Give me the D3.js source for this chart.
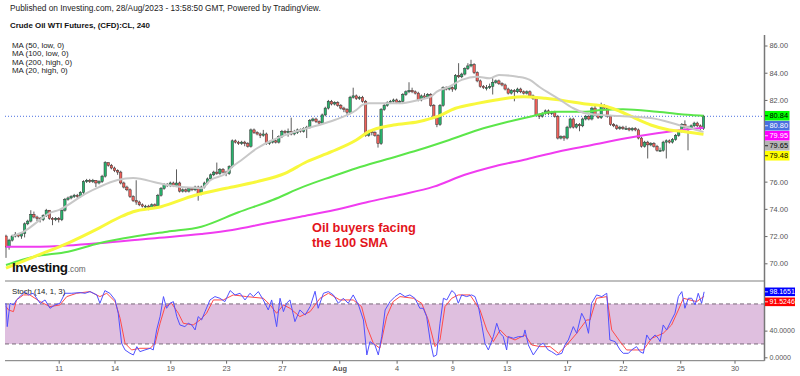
<!DOCTYPE html>
<html>
<head>
<meta charset="utf-8">
<script src="https://cdn.jsdelivr.net/npm/d3@7"></script>
<style>
body { margin: 0; background: #fff; }
svg { display: block; font-family: "Liberation Sans", Arial, sans-serif; }
</style>
</head>
<body>
<div id="chart"></div>
<script>
// candles, 4h bars (open = previous close)
var firstOpen = 72.0;
var closes = [
  71.2, 71.7, 72.0, 72.1, 72.0, 72.2, 72.9, 73.1, 73.6, 73.4,
  73.3, 73.2, 73.5, 73.9, 73.3, 73.2, 73.3, 73.2, 73.9, 74.7,
  74.8, 74.9, 75.0, 74.9, 75.2, 76.0, 76.1, 76.0, 76.1, 75.9,
  76.0, 76.4, 77.4, 77.2, 77.0, 76.8, 76.7, 75.9, 75.6, 75.4,
  74.9, 74.6, 74.5, 74.3, 74.2, 74.2, 74.1, 74.3, 74.2, 75.0,
  75.5, 75.8, 75.7, 75.9, 75.7, 75.9, 75.3, 75.4, 75.3, 75.5,
  75.4, 75.6, 75.1, 75.6, 75.9, 76.2, 76.5, 76.7, 76.6, 76.9,
  76.7, 76.6, 77.1, 79.0, 78.9, 78.8, 78.9, 78.8, 78.6, 79.8,
  79.6, 79.5, 79.4, 79.5, 78.8, 78.9, 79.0, 78.9, 79.3, 79.7,
  79.6, 79.7, 79.5, 79.6, 79.8, 79.7, 79.9, 80.0, 80.5, 80.6,
  80.4, 80.3, 80.9, 81.4, 81.9, 81.7, 81.8, 81.6, 81.4, 81.3,
  81.1, 82.2, 82.3, 82.1, 82.2, 81.9, 79.4, 79.7, 79.6, 79.4,
  78.8, 81.3, 81.6, 81.8, 81.9, 82.0, 81.8, 81.9, 82.4, 82.6,
  82.7, 82.6, 82.5, 82.0, 82.3, 82.2, 82.4, 81.6, 80.7, 80.2,
  81.6, 82.9, 82.8, 82.9, 82.8, 83.8, 83.7, 83.9, 84.3, 84.5,
  84.6, 84.0, 83.4, 83.0, 82.9, 82.9, 83.0, 83.3, 83.4, 83.2,
  83.1, 82.8, 82.5, 82.7, 82.6, 82.8, 82.6, 82.5, 82.6, 82.3,
  82.1, 80.9, 80.8, 81.0, 81.2, 81.0, 81.1, 80.8, 79.2, 79.3,
  79.2, 80.0, 80.6, 80.0, 80.2, 80.1, 80.6, 80.8, 80.6, 81.4,
  80.9, 80.7, 81.6, 81.4, 80.8, 80.2, 80.1, 79.9, 80.0, 79.9,
  79.9, 79.8, 79.9, 79.8, 79.2, 78.6, 78.9, 78.7, 78.8, 78.6,
  78.3, 78.3, 78.9, 79.0, 78.9, 79.1, 79.4, 79.7, 80.2, 80.0,
  79.9, 80.1, 80.3, 80.1, 79.9, 80.8
];
var highs = [
  72.1, 71.8, 72.1, 72.3, 72.2, 72.3, 73.0, 73.2, 73.9, 73.8,
  73.5, 73.4, 73.6, 74.0, 73.9, 73.4, 73.4, 73.4, 74.0, 74.8,
  74.9, 75.0, 75.1, 75.1, 75.3, 76.1, 76.2, 76.2, 76.2, 76.1,
  76.1, 76.5, 77.5, 77.4, 77.3, 77.1, 76.9, 76.8, 76.0, 75.7,
  75.5, 75.0, 76.1, 74.6, 74.4, 74.3, 74.3, 74.4, 74.4, 75.1,
  75.6, 75.9, 75.9, 76.0, 76.0, 76.9, 76.0, 75.5, 75.5, 75.6,
  75.6, 75.7, 75.7, 75.7, 76.0, 76.3, 76.6, 76.8, 77.4, 77.0,
  77.0, 76.8, 77.2, 79.1, 79.1, 79.0, 79.0, 79.0, 78.9, 79.9,
  79.9, 79.7, 79.6, 79.8, 79.6, 79.0, 79.8, 79.1, 79.4, 79.8,
  79.8, 79.9, 80.7, 79.8, 79.9, 79.9, 80.0, 80.1, 80.6, 80.7,
  80.7, 80.5, 81.0, 81.5, 82.0, 82.0, 81.9, 81.9, 81.7, 81.5,
  81.4, 82.3, 82.9, 82.4, 82.3, 82.3, 82.0, 79.8, 79.8, 79.7,
  79.5, 81.4, 81.7, 81.9, 82.0, 82.1, 82.1, 82.0, 82.5, 82.7,
  83.3, 82.9, 82.7, 82.6, 82.4, 82.5, 82.5, 82.5, 81.7, 80.8,
  81.7, 83.0, 83.0, 83.0, 83.0, 83.9, 84.7, 84.0, 84.4, 84.7,
  84.95, 84.7, 84.1, 83.5, 83.1, 83.1, 83.2, 83.6, 83.5, 83.5,
  83.3, 83.2, 82.9, 82.8, 82.8, 82.9, 82.9, 82.7, 82.7, 82.7,
  82.4, 82.2, 81.0, 81.1, 81.3, 81.3, 81.2, 81.2, 80.9, 79.4,
  79.4, 80.1, 80.7, 80.7, 80.3, 80.3, 80.7, 80.9, 80.9, 81.5,
  81.6, 81.0, 81.8, 81.7, 81.5, 80.9, 80.3, 80.2, 80.1, 80.1,
  80.1, 80.0, 80.0, 80.0, 79.9, 79.3, 79.0, 79.0, 78.9, 78.9,
  78.7, 78.5, 79.0, 79.1, 79.1, 79.2, 79.5, 79.8, 80.3, 80.5,
  80.1, 80.2, 80.4, 80.4, 80.2, 80.9
];
var lows = [
  70.4, 71.0, 71.6, 71.9, 71.9, 71.8, 71.9, 72.8, 73.0, 73.3,
  73.1, 73.0, 73.1, 73.4, 73.2, 72.8, 73.1, 73.0, 73.1, 73.8,
  74.6, 74.7, 74.8, 74.8, 74.8, 75.1, 75.9, 75.9, 75.9, 75.6,
  75.8, 75.9, 76.3, 77.1, 76.9, 76.7, 76.5, 75.8, 75.5, 75.3,
  74.8, 74.5, 74.3, 74.2, 74.1, 74.0, 73.9, 74.0, 74.0, 74.1,
  74.9, 75.4, 75.6, 75.6, 75.6, 75.6, 75.2, 75.2, 75.2, 75.2,
  75.3, 75.3, 74.6, 75.0, 75.5, 75.8, 76.1, 76.4, 76.5, 76.5,
  76.6, 76.4, 76.5, 77.0, 78.8, 78.7, 78.7, 78.6, 78.5, 78.5,
  79.5, 79.4, 79.2, 79.3, 78.7, 78.7, 78.8, 78.8, 78.8, 79.2,
  79.5, 79.3, 79.4, 79.4, 79.5, 79.6, 79.6, 79.2, 79.9, 80.4,
  80.3, 80.2, 80.2, 80.8, 81.3, 81.6, 81.6, 81.5, 81.3, 81.1,
  80.9, 81.0, 82.1, 82.0, 82.0, 81.8, 79.3, 79.3, 79.4, 79.3,
  78.5, 78.7, 81.2, 81.5, 81.7, 81.8, 81.7, 81.7, 81.8, 82.3,
  82.5, 82.5, 82.4, 81.9, 81.9, 82.1, 82.1, 81.5, 80.6, 80.0,
  80.1, 81.5, 82.7, 82.7, 82.6, 82.7, 83.6, 83.6, 83.8, 84.2,
  84.4, 83.9, 83.3, 82.9, 82.8, 82.7, 82.8, 82.4, 83.2, 83.1,
  83.0, 82.7, 82.4, 82.4, 81.9, 82.5, 82.5, 82.4, 82.4, 82.2,
  82.0, 80.8, 80.6, 80.7, 80.9, 80.9, 80.9, 80.7, 79.1, 79.1,
  79.0, 79.1, 79.9, 79.9, 79.9, 79.7, 80.0, 80.5, 80.5, 80.5,
  80.8, 80.6, 80.6, 81.3, 80.7, 80.1, 80.0, 79.8, 79.8, 79.8,
  79.8, 79.7, 79.7, 79.7, 79.1, 78.5, 78.5, 77.7, 78.6, 78.5,
  78.2, 78.2, 78.2, 77.7, 78.8, 78.8, 79.0, 79.3, 79.6, 79.9,
  78.3, 79.8, 80.0, 80.0, 79.8, 79.8
];

// moving averages: [bar, price]
var ma20 = [[2,72.0],[6,72.37],[11,73.2],[14,73.69],[17,73.91],[26,75.16],[30,75.6],[36,76.12],[41,76.26],[49,75.9],[52,75.75],[63,75.51],[66,76.12],[71,76.61],[73,77.09],[76,77.59],[81,78.45],[86,79.06],[90,79.42],[95,79.79],[101,80.16],[106,80.53],[113,81.26],[115,81.63],[117,81.75],[122,81.75],[127,81.75],[133,82.0],[137,82.24],[139,82.61],[143,82.97],[147,83.47],[152,83.71],[156,83.59],[159,83.83],[165,83.71],[169,83.47],[172,82.97],[178,82.12],[183,81.39],[187,81.02],[192,80.89],[198,80.82],[208,80.67],[217,80.16],[225,79.65]];
var ma50 = [[0,69.65],[9,70.48],[20,71.49],[30,72.59],[37,73.42],[41,73.79],[50,74.16],[61,75.0],[71,75.51],[81,76.0],[90,76.61],[97,77.46],[105,78.2],[113,79.06],[117,79.67],[125,80.16],[133,80.4],[139,80.77],[145,81.39],[152,81.75],[158,82.0],[167,82.24],[174,82.12],[180,81.95],[187,81.7],[193,81.55],[197,81.26],[203,80.65],[208,80.16],[214,79.79],[219,79.67],[225,79.48]];
var ma100 = [[0,69.87],[5,70.24],[9,70.48],[20,70.85],[30,71.47],[41,71.95],[52,72.32],[63,72.69],[75,73.75],[86,74.65],[96,75.63],[105,76.36],[113,76.98],[122,77.59],[133,78.32],[143,79.06],[154,79.92],[162,80.4],[169,80.77],[177,81.14],[187,81.14],[192,81.26],[199,81.31],[210,81.14],[221,80.89],[225,80.84]];
var ma200 = [[0,71.22],[11,71.22],[30,71.47],[47,71.83],[63,72.15],[73,72.44],[84,72.94],[95,73.42],[106,73.91],[117,74.52],[127,75.02],[138,75.63],[148,76.5],[158,77.15],[168,77.65],[178,78.2],[189,78.69],[200,79.18],[210,79.55],[218,79.79],[225,79.95]];

// stochastic (14,1,3): [bar, value]
var stochK = [[0,81],[0.4,46],[1.3,81],[2.4,78.5],[3.4,86],[4.5,91],[6.1,98.5],[7.2,93.5],[8.8,96],[11,81],[12.6,86],[14.2,73.5],[15.8,78.5],[17.4,81],[19,96],[21.2,96],[23.9,97],[25.5,96],[27.1,98.5],[29.3,93.5],[30.3,81],[31.9,100],[33.5,96],[35.2,86],[36.2,66],[37.3,21],[38.4,11],[40,6],[41.1,3.5],[42.2,16],[43.2,8.5],[44.8,11],[46.5,13.5],[47.5,11],[48.6,41],[49.7,61],[50.8,91],[51.8,73.5],[52.9,81],[54,83.5],[55.1,61],[56.1,48.5],[57.7,46],[58.8,51],[59.9,48.5],[61,41],[62,61],[63.1,56],[64.2,68.5],[65.8,86],[67.4,91],[69,88.5],[70.6,83.5],[72.3,100],[73.9,93.5],[75.5,96],[77.1,86],[78.7,96],[79.8,91],[81.4,98.5],[83,86],[84.6,71],[85.7,86],[87.3,46],[88.4,88.5],[89.5,68.5],[90.5,81],[91.6,86],[93.2,53.5],[94.8,71],[96.5,63.5],[98.1,76],[99.7,99],[100.7,73.5],[102.4,96],[104,98.5],[105.6,93.5],[107.2,81],[108.8,88.5],[110.4,81],[112,93.5],[113.7,78.5],[115.3,56],[116.4,3.5],[117.4,23.5],[119,18.5],[120.1,3.5],[121.2,31],[122.3,71],[123.9,83.5],[125.5,91],[127.1,96],[128.7,91],[130.3,93.5],[131.9,88.5],[133.5,73.5],[134.6,73.5],[135.7,61],[136.8,26],[137.9,1],[138.9,3.5],[140,51],[141.1,88.5],[142.2,86],[143.8,100],[144.8,96],[145.9,81],[147,93.5],[148.6,91],[150.2,93.5],[151.3,91],[152.4,76],[153.4,51],[154.5,21],[155.6,11],[157.2,31],[158.3,51],[159.4,36],[160.4,31],[161.5,11],[162,31],[163.7,28.5],[165.3,31],[166.9,31],[167.4,41],[168.5,18.5],[170.1,3.5],[172.3,18.5],[173.3,21],[174.9,11],[176,8.5],[177.6,3.5],[179.3,6],[180.3,18.5],[181.4,26],[183,46],[184.1,36],[185.7,66],[186.8,56],[187.9,36],[188.9,81],[190.5,93.5],[192.2,91],[193.8,96],[194.8,26],[196.5,23.5],[198.1,11],[199.1,6],[200.8,6],[201.8,11],[203.4,16],[204.5,8.5],[205.6,6],[206.7,33.5],[207.7,26],[209.4,33.5],[210.4,28.5],[211,23.5],[212,48.5],[213.1,41],[214.7,56],[215.8,66],[216.9,91],[218,98.5],[219,73.5],[220.1,88.5],[221.2,88.5],[222.3,78.5],[223.3,96],[224.4,81],[225.2,98.17]];
var stochD = [[0,76],[0.8,71],[2.4,68.5],[3.4,86],[5.6,93.5],[7.7,93.5],[11,83.5],[14.2,76],[17.4,78.5],[19.6,91],[22.8,96],[27.1,98.5],[30.3,91],[32.5,96],[35.2,83.5],[36.8,58.5],[38.4,21],[40.5,11],[43.2,13.5],[46.5,13.5],[48.1,21],[49.7,51],[51.3,76],[53.4,81],[55.6,66],[57.2,51],[60.4,48.5],[62.6,56],[64.7,66],[66.9,86],[70.1,86],[73.3,93.5],[77.6,91],[83,88.5],[85.2,78.5],[87.3,66],[89.5,78.5],[91.6,73.5],[94.8,61],[98.1,68.5],[101.3,88.5],[104,96],[107.7,86],[112,86],[114.7,76],[116.4,46],[118.5,21],[120.6,13.5],[122.8,61],[124.9,83.5],[127.1,91],[131.4,88.5],[134.1,81],[136.2,56],[138.4,16],[140,26],[141.6,76],[143.8,88.5],[145.9,93.5],[149.7,93.5],[152.9,71],[155.1,41],[157.2,23.5],[159.4,41],[161.5,31],[164.2,26],[167.4,33.5],[169.6,18.5],[172.3,16],[175.5,16],[178.2,6],[180.9,18.5],[184.1,36],[187.3,56],[188.4,56],[190.5,88.5],[193.8,91],[195.4,41],[198.1,23.5],[200.2,11],[202.9,11],[205.6,11],[208.3,28.5],[212,36],[214.7,48.5],[216.9,71],[218.5,88.5],[220.6,86],[222.8,83.5],[225.2,91.52]];

// axis ticks (78/80 and stoch 80 sit under the value tags in the original)
var priceTicks = [70, 72, 74, 76, 82, 84, 86];
var stochTicks = [0, 40];
var stochBand = [20, 80];
var xTickBars = [17, 35, 53, 71, 89, 107.5, 126, 144, 161.5, 181, 199, 217.5, 235];
var xTickLabels = ["11", "14", "19", "23", "27", "Aug", "4", "9", "13", "17", "22", "25", "30"];

// last value labels on the price scale
var lastPrice = 80.80;
var tagValues = [80.84, 80.80, 79.95, 79.65, 79.48];
var tagFills = ["#00ff00", "#4a70e0", "#ff00ff", "#b4b4b4", "#ffff00"];
var tagTexts = ["#000", "#fff", "#fff", "#000", "#000"];
var stochTagValues = [98.1651, 91.5246];
var stochTagFills = ["#0000ff", "#ff0000"];

var legendLines = ["MA (50, low, 0)", "MA (100, low, 0)", "MA (200, high, 0)", "MA (20, high, 0)"];

var width = 800, height = 376;
var left = 5, right = 764.5, mainTop = 35, mainBottom = 281, stochTop = 282, stochBottom = 360.7;

var svg = d3.select("#chart").append("svg")
    .attr("width", width)
    .attr("height", height);

var x = d3.scaleLinear().domain([0, 225]).range([6, 703.5]);
var yPrice = d3.scaleLinear().domain([70, 86]).range([263.3, 45.5]);
var yStoch = d3.scaleLinear().domain([0, 100]).range([357.3, 290.6]);

var defs = svg.append("defs");
defs.append("clipPath").attr("id", "clipMain").append("rect")
    .attr("x", left).attr("y", mainTop).attr("width", right - left).attr("height", mainBottom - mainTop);
defs.append("clipPath").attr("id", "clipStoch").append("rect")
    .attr("x", left).attr("y", stochTop).attr("width", right - left).attr("height", stochBottom - stochTop);

// header texts
svg.append("text").attr("x", 10).attr("y", 11)
    .style("font-size", "8.3px").style("fill", "#222")
    .text("Published on Investing.com, 28/Aug/2023 - 13:58:50 GMT, Powered by TradingView.");
svg.append("text").attr("x", 10).attr("y", 28)
    .style("font-size", "7.9px").style("font-weight", "bold").style("fill", "#111")
    .text("Crude Oil WTI Futures, (CFD):CL, 240");

svg.selectAll(".legend")
    .data(legendLines)
    .enter().append("text")
    .attr("class", "legend")
    .attr("x", 12)
    .attr("y", function(d, i) { return 48 + i * 8.3; })
    .style("font-size", "7.9px").style("fill", "#222")
    .text(function(d) { return d; });

// main pane
var main = svg.append("g").attr("clip-path", "url(#clipMain)");

main.append("line")
    .attr("x1", left).attr("x2", right)
    .attr("y1", yPrice(lastPrice)).attr("y2", yPrice(lastPrice))
    .attr("stroke", "#4a70e0").attr("stroke-width", 1)
    .attr("stroke-dasharray", "1,2");

var candles = closes.map(function(c, i) {
    return { i: i, o: i === 0 ? firstOpen : closes[i - 1], h: highs[i], l: lows[i], c: c };
});

main.selectAll(".wick")
    .data(candles)
    .enter().append("line")
    .attr("class", "wick")
    .attr("x1", function(d) { return x(d.i); })
    .attr("x2", function(d) { return x(d.i); })
    .attr("y1", function(d) { return yPrice(d.h); })
    .attr("y2", function(d) { return yPrice(d.l); })
    .attr("stroke", "#4a4a4a")
    .attr("stroke-width", 0.9);

main.selectAll(".body")
    .data(candles)
    .enter().append("rect")
    .attr("class", "body")
    .attr("x", function(d) { return x(d.i) - 1.2; })
    .attr("width", 2.4)
    .attr("y", function(d) { return yPrice(Math.max(d.o, d.c)); })
    .attr("height", function(d) { return Math.max(1, Math.abs(yPrice(d.o) - yPrice(d.c))); })
    .attr("fill", function(d) { return d.c >= d.o ? "#27b36c" : "#f0605a"; })
    .attr("stroke", "#333")
    .attr("stroke-width", 0.5);

var maLine = d3.line()
    .x(function(d) { return x(d[0]); })
    .y(function(d) { return yPrice(d[1]); })
    .curve(d3.curveMonotoneX);

var maSeries = [
    { pts: ma200, color: "#f03cf0", w: 2 },
    { pts: ma100, color: "#5ce64a", w: 2 },
    { pts: ma50, color: "#f8f83c", w: 3 },
    { pts: ma20, color: "#c8c8c8", w: 2 }
];
main.selectAll(".ma")
    .data(maSeries)
    .enter().append("path")
    .attr("class", "ma")
    .attr("d", function(d) { return maLine(d.pts); })
    .attr("fill", "none")
    .attr("stroke", function(d) { return d.color; })
    .attr("stroke-width", function(d) { return d.w; })
    .attr("stroke-linejoin", "round");

// logo sits over the lines
var logo = svg.append("text").attr("x", 12).attr("y", 271.5);
logo.append("tspan").text("Investing")
    .style("font-size", "13.5px").style("font-weight", "bold").style("fill", "#111").style("letter-spacing", "-0.4px");
logo.append("tspan").text(".com")
    .style("font-size", "8.3px").style("fill", "#666");

// annotation
svg.append("text").attr("x", 312).attr("y", 231.5)
    .style("font-size", "12.8px").style("font-weight", "bold").style("fill", "#e3141b")
    .text("Oil buyers facing");
svg.append("text").attr("x", 312).attr("y", 246.5)
    .style("font-size", "12.8px").style("font-weight", "bold").style("fill", "#e3141b")
    .text("the 100 SMA");

// pane separator
svg.append("line")
    .attr("x1", left).attr("x2", right)
    .attr("y1", 281).attr("y2", 281)
    .attr("stroke", "#aaa").attr("stroke-width", 1.5);

// stochastic pane
var stoch = svg.append("g").attr("clip-path", "url(#clipStoch)");

stoch.append("rect")
    .attr("x", left).attr("width", right - left)
    .attr("y", yStoch(stochBand[1]))
    .attr("height", yStoch(stochBand[0]) - yStoch(stochBand[1]))
    .attr("fill", "#dfbfdf");

stoch.selectAll(".band")
    .data(stochBand)
    .enter().append("line")
    .attr("class", "band")
    .attr("x1", left).attr("x2", right)
    .attr("y1", function(d) { return yStoch(d); })
    .attr("y2", function(d) { return yStoch(d); })
    .attr("stroke", "#7a6a7a").attr("stroke-width", 1)
    .attr("stroke-dasharray", "4,3");

var stochLine = d3.line()
    .x(function(d) { return x(d[0]); })
    .y(function(d) { return yStoch(d[1]); });

stoch.append("path")
    .attr("d", stochLine(stochD))
    .attr("fill", "none").attr("stroke", "#ff4a4a").attr("stroke-width", 1);
stoch.append("path")
    .attr("d", stochLine(stochK))
    .attr("fill", "none").attr("stroke", "#5050ff").attr("stroke-width", 1);

svg.append("text").attr("x", 12).attr("y", 293.5)
    .style("font-size", "7.8px").style("fill", "#222")
    .text("Stoch (14, 1, 3)");

// price axis
var priceAxis = svg.append("g")
    .attr("transform", "translate(" + right + ",0)")
    .call(d3.axisRight(yPrice).tickValues(priceTicks).tickFormat(d3.format(".2f")).tickSize(3).tickPadding(2));
priceAxis.select(".domain").remove();
priceAxis.selectAll("line").attr("stroke", "#666");
priceAxis.selectAll("text").style("font-size", "7.4px").style("fill", "#555").style("font-family", "Liberation Sans, Arial, sans-serif");

var stochAxis = svg.append("g")
    .attr("transform", "translate(" + right + ",0)")
    .call(d3.axisRight(yStoch).tickValues(stochTicks).tickFormat(d3.format(".4f")).tickSize(3).tickPadding(2));
stochAxis.select(".domain").remove();
stochAxis.selectAll("line").attr("stroke", "#666");
stochAxis.selectAll("text").style("font-size", "7px").style("fill", "#555").style("font-family", "Liberation Sans, Arial, sans-serif");

svg.append("line")
    .attr("x1", right).attr("x2", right)
    .attr("y1", mainTop).attr("y2", stochBottom)
    .attr("stroke", "#777").attr("stroke-width", 1.5);

// time axis
var timeAxis = svg.append("g")
    .attr("transform", "translate(0," + stochBottom + ")")
    .call(d3.axisBottom(x).tickValues(xTickBars)
        .tickFormat(function(d, i) { return xTickLabels[i]; })
        .tickSize(3).tickPadding(2));
timeAxis.select(".domain").remove();
timeAxis.selectAll("line").attr("stroke", "#666");
timeAxis.selectAll("text")
    .style("font-size", "7.4px").style("fill", "#555").style("font-family", "Liberation Sans, Arial, sans-serif")
    .style("font-weight", function(d, i) { return xTickLabels[i] === "Aug" ? "bold" : "normal"; });

svg.append("line")
    .attr("x1", left).attr("x2", right)
    .attr("y1", stochBottom).attr("y2", stochBottom)
    .attr("stroke", "#777").attr("stroke-width", 1);

// value tags, stacked so they do not overlap
var tagH = 9.6, prevY = -100;
var tags = tagValues.map(function(v, i) {
    var cy = Math.max(yPrice(v), prevY + 10);
    prevY = cy;
    return { v: v, cy: cy, fill: tagFills[i], text: tagTexts[i] };
});
var tagG = svg.selectAll(".tag")
    .data(tags)
    .enter().append("g")
    .attr("class", "tag")
    .attr("transform", function(d) { return "translate(" + (right + 0.5) + "," + d.cy + ")"; });
tagG.append("rect")
    .attr("x", 0).attr("y", -tagH / 2).attr("width", 24.5).attr("height", tagH)
    .attr("fill", function(d) { return d.fill; });
tagG.append("line")
    .attr("x1", 0).attr("x2", 3).attr("y1", 0).attr("y2", 0)
    .attr("stroke", function(d) { return d.text; }).attr("stroke-width", 0.8);
tagG.append("text")
    .attr("x", 4.5).attr("y", 0).attr("dy", "0.35em")
    .style("font-size", "7.4px").style("fill", function(d) { return d.text; })
    .text(function(d) { return d3.format(".2f")(d.v); });

prevY = -100;
var stochTags = stochTagValues.map(function(v, i) {
    var cy = Math.max(yStoch(v), prevY + 10);
    prevY = cy;
    return { v: v, cy: cy, fill: stochTagFills[i] };
});
var sTagG = svg.selectAll(".stag")
    .data(stochTags)
    .enter().append("g")
    .attr("class", "stag")
    .attr("transform", function(d) { return "translate(" + (right + 0.5) + "," + d.cy + ")"; });
sTagG.append("rect")
    .attr("x", 0).attr("y", -4.3).attr("width", 30).attr("height", 8.6)
    .attr("fill", function(d) { return d.fill; });
sTagG.append("line")
    .attr("x1", 0).attr("x2", 3).attr("y1", 0).attr("y2", 0)
    .attr("stroke", "#fff").attr("stroke-width", 0.8);
sTagG.append("text")
    .attr("x", 4.5).attr("y", 0).attr("dy", "0.35em")
    .style("font-size", "7px").style("fill", "#fff")
    .text(function(d) { return d3.format(".4f")(d.v); });
</script>
</body>
</html>
